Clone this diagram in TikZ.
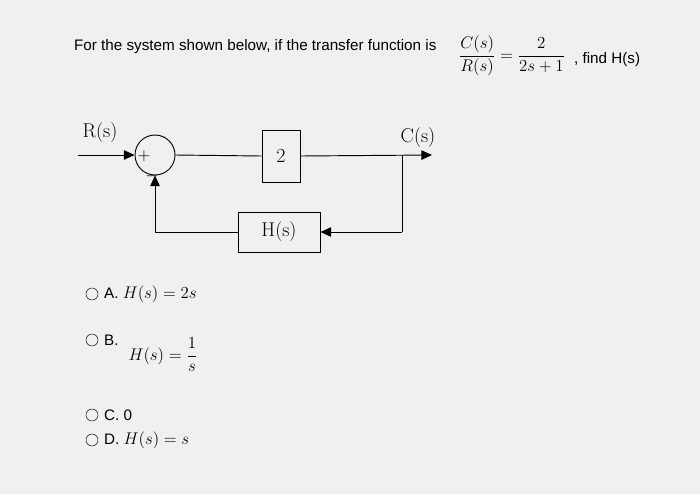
\documentclass[tikz,border=0pt]{standalone}
\usepackage{amsmath}
\usepackage{fontspec}
\setsansfont{Liberation Sans}
\usetikzlibrary{arrows.meta}
\tikzset{
  blk/.style={draw, thick, font=\fontsize{17}{20}\selectfont},
  sig/.style={thick, -{Triangle[length=9pt,width=8pt]}},
  qtext/.style={font=\sffamily\fontsize{13}{16}\selectfont, anchor=west},
  mtext/.style={font=\fontsize{14}{17}\selectfont},
  radio/.style={draw, circle, minimum size=0.36cm, inner sep=0pt}
}
\begin{document}
\begin{tikzpicture}[x=0.03cm, y=-0.03cm]
\fill[black!6] (0,0) rectangle (700,494);
\useasboundingbox (0,0) rectangle (700,494);
% Question
    \node[qtext] (q) at (70,47) {For the system shown below, if the transfer function is};
    \node[mtext] (tf) at (512,56) {$\dfrac{C(s)}{R(s)}=\dfrac{2}{2s+1}$};
    \node[qtext] (fh) at (570,60) {, find H(s)};
% Block diagram
    \node[draw, thick, circle, minimum size=1.2cm] (sum) at (155,155) {};
    \node[mtext] (plus) at (144,156) {$+$};
    \node[mtext] (minus) at (152,176) {$-$};
    \node[blk, minimum width=1.14cm, minimum height=1.56cm] (g) at (281,156) {2};
    \node[blk, minimum width=2.46cm, minimum height=1.2cm] (h) at (279,232) {H(s)};
    \node[blk, draw=none] (rs) at (100,133) {R(s)};
    \node[blk, draw=none] (cs) at (418,138) {C(s)};
    \coordinate (in) at (78,155);
    \coordinate (out) at (432,155);
    \coordinate (br) at (402,155);
    \coordinate (bd) at (402,232);
    \coordinate (fl) at (155,232);
    \draw[sig] (in) -- (sum.west);
    \draw[thick] (sum.east) -- (g.west);
    \draw[sig] (g.east) -- (out);
    \draw[thick] (br) -- (bd);
    \draw[sig] (bd) -- (h.east);
    \draw[thick] (h.west) -- (fl);
    \draw[sig] (fl) -- (sum.south);
% Options
    \node[radio] (ra) at (92,294) {};
    \node[qtext] (oa) at (100,294) {A. \fontsize{14}{17}\selectfont$H(s)=2s$};
    \node[radio] (rb) at (92,340) {};
    \node[qtext] (ob) at (100,340) {B.};
    \node[mtext] (fb) at (163,355) {$H(s)=\dfrac{1}{s}$};
    \node[radio] (rc) at (92,415) {};
    \node[qtext] (oc) at (100,415) {C. 0};
    \node[radio] (rd) at (92,440) {};
    \node[qtext] (od) at (100,440) {D. \fontsize{14}{17}\selectfont$H(s)=s$};
\end{tikzpicture}
\end{document}
